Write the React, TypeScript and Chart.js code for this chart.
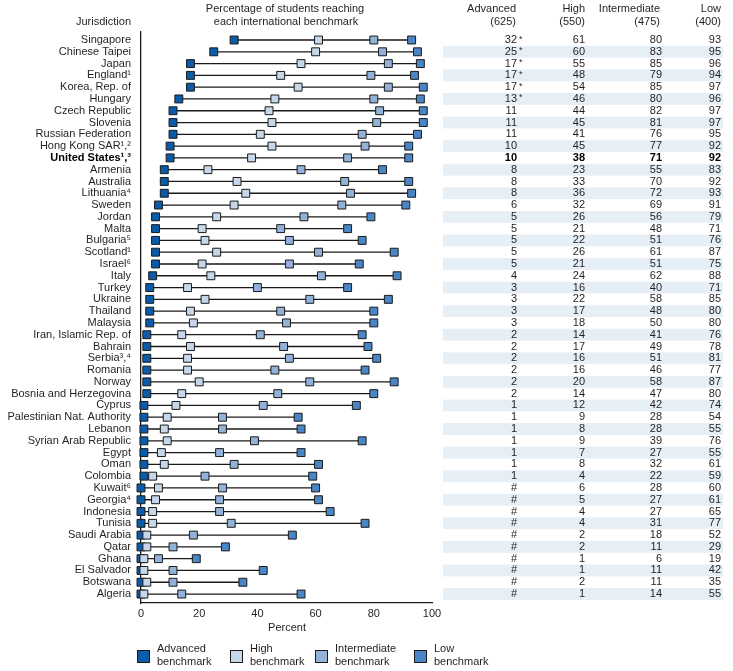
import React, { useEffect, useRef } from 'react';
import { Chart, registerables } from 'chart.js';

Chart.register(...registerables);

const jurisdictions = [
  'Singapore', 'Chinese Taipei', 'Japan', 'England¹', 'Korea, Rep. of', 'Hungary',
  'Czech Republic', 'Slovenia', 'Russian Federation', 'Hong Kong SAR¹,²', 'United States¹,³',
  'Armenia', 'Australia', 'Lithuania⁴', 'Sweden', 'Jordan', 'Malta', 'Bulgaria⁵', 'Scotland¹',
  'Israel⁶', 'Italy', 'Turkey', 'Ukraine', 'Thailand', 'Malaysia', 'Iran, Islamic Rep. of',
  'Bahrain', 'Serbia³,⁴', 'Romania', 'Norway', 'Bosnia and Herzegovina', 'Cyprus',
  'Palestinian Nat. Authority', 'Lebanon', 'Syrian Arab Republic', 'Egypt', 'Oman', 'Colombia',
  'Kuwait⁶', 'Georgia⁴', 'Indonesia', 'Tunisia', 'Saudi Arabia', 'Qatar', 'Ghana',
  'El Salvador', 'Botswana', 'Algeria',
];

// 0 in advanced = "#" (rounds to zero)
const advanced = [32, 25, 17, 17, 17, 13, 11, 11, 11, 10, 10, 8, 8, 8, 6, 5, 5, 5, 5, 5, 4, 3, 3, 3, 3, 2, 2, 2, 2, 2, 2, 1, 1, 1, 1, 1, 1, 1, 0, 0, 0, 0, 0, 0, 0, 0, 0, 0];
const high = [61, 60, 55, 48, 54, 46, 44, 45, 41, 45, 38, 23, 33, 36, 32, 26, 21, 22, 26, 21, 24, 16, 22, 17, 18, 14, 17, 16, 16, 20, 14, 12, 9, 8, 9, 7, 8, 4, 6, 5, 4, 4, 2, 2, 1, 1, 2, 1];
const intermediate = [80, 83, 85, 79, 85, 80, 82, 81, 76, 77, 71, 55, 70, 72, 69, 56, 48, 51, 61, 51, 62, 40, 58, 48, 50, 41, 49, 51, 46, 58, 47, 42, 28, 28, 39, 27, 32, 22, 28, 27, 27, 31, 18, 11, 6, 11, 11, 14];
const low = [93, 95, 96, 94, 97, 96, 97, 97, 95, 92, 92, 83, 92, 93, 91, 79, 71, 76, 87, 75, 88, 71, 85, 80, 80, 76, 78, 81, 77, 87, 80, 74, 54, 55, 76, 55, 61, 59, 60, 61, 65, 77, 52, 29, 19, 42, 35, 55];
const significantRows = [0, 1, 2, 3, 4, 5];
const boldRow = 10;
const xTickValues = [0, 20, 40, 60, 80, 100];

const FONT = '"Liberation Sans", Arial, sans-serif';
const TEXT = '#231f20';
const STRIPE = '#e6eef6';
const C_ADV = '#0b5ca8';
const C_HIGH = '#c6d7ea';
const C_INT = '#92b2d8';
const C_LOW = '#4a86c5';
const EDGE = '#1a1a1a';

const tablePlugin = {
  id: 'tablePlugin',
  afterDraw(chart: any) {
    const ctx = chart.ctx as CanvasRenderingContext2D;
    const ys = chart.scales.y;
    const step = Math.abs(ys.getPixelForValue(1) - ys.getPixelForValue(0));
    ctx.save();
    ctx.textBaseline = 'middle';
    ctx.font = `11px ${FONT}`;
    ctx.fillStyle = TEXT;
    ctx.textAlign = 'right';
    ctx.fillText('Jurisdiction', 131, 22);
    ctx.textAlign = 'center';
    ctx.fillText('Percentage of students reaching', 285, 9);
    ctx.fillText('each international benchmark', 286, 22);
    ctx.textAlign = 'right';
    const heads: [string, string, number][] = [
      ['Advanced', '(625)', 516],
      ['High', '(550)', 585],
      ['Intermediate', '(475)', 660],
      ['Low', '(400)', 721],
    ];
    heads.forEach(([a, b, x]) => {
      ctx.fillText(a, x, 9);
      ctx.fillText(b, x, 22);
    });

    jurisdictions.forEach((_, i) => {
      if (i % 2 === 1) {
        const py = ys.getPixelForValue(i);
        ctx.fillStyle = STRIPE;
        ctx.fillRect(443, py - step / 2, 280, step);
      }
    });
    jurisdictions.forEach((_, i) => {
      const py = ys.getPixelForValue(i);
      const bold = i === boldRow;
      ctx.font = `${bold ? 'bold ' : ''}11px ${FONT}`;
      ctx.fillStyle = bold ? '#000' : TEXT;
      ctx.textAlign = 'right';
      const adv = advanced[i] === 0 ? '#' : String(advanced[i]);
      ctx.fillText(adv, 517, py);
      ctx.fillText(String(high[i]), 585, py);
      ctx.fillText(String(intermediate[i]), 662, py);
      ctx.fillText(String(low[i]), 721, py);
      if (significantRows.includes(i)) {
        ctx.textAlign = 'left';
        ctx.font = `9px ${FONT}`;
        ctx.fillText('*', 519, py - 1);
      }
    });

    ctx.font = `11px ${FONT}`;
    ctx.fillStyle = TEXT;
    ctx.textAlign = 'center';
    ctx.fillText('Percent', 287, 628);

    const legend: [string, string, number][] = [
      ['Advanced', C_ADV, 137],
      ['High', C_HIGH, 230],
      ['Intermediate', C_INT, 315],
      ['Low', C_LOW, 414],
    ];
    legend.forEach(([name, color, x]) => {
      ctx.fillStyle = color;
      ctx.fillRect(x, 650, 12, 12);
      ctx.strokeStyle = EDGE;
      ctx.lineWidth = 1;
      ctx.strokeRect(x + 0.5, 650.5, 12, 12);
      ctx.fillStyle = TEXT;
      ctx.textAlign = 'left';
      ctx.fillText(name, x + 20, 649);
      ctx.fillText('benchmark', x + 20, 662);
    });
    ctx.restore();
  },
};

export default function App() {
  const ref = useRef<HTMLCanvasElement>(null);
  useEffect(() => {
    const lineData: { x: number; y: number }[] = [];
    jurisdictions.forEach((_, i) => {
      lineData.push({ x: advanced[i], y: i });
      lineData.push({ x: low[i], y: i });
      lineData.push({ x: NaN, y: NaN });
    });
    const pts = (arr: number[]) => arr.map((v, i) => ({ x: v, y: i }));
    const markerDs = (label: string, arr: number[], color: string, order: number) => ({
      label,
      data: pts(arr),
      pointStyle: 'rect',
      pointRadius: 5.6,
      pointBorderWidth: 1,
      pointBackgroundColor: color,
      pointBorderColor: EDGE,
      backgroundColor: color,
      borderColor: EDGE,
      showLine: false,
      clip: false,
      order,
    });
    const chart = new Chart(ref.current as HTMLCanvasElement, {
      type: 'scatter',
      data: {
        datasets: [
          {
            label: 'range',
            data: lineData,
            showLine: true,
            spanGaps: false,
            borderColor: EDGE,
            borderWidth: 1.3,
            pointRadius: 0,
            order: 10,
            clip: false,
          } as any,
          markerDs('Advanced benchmark', advanced, C_ADV, 4),
          markerDs('High benchmark', high, C_HIGH, 3),
          markerDs('Intermediate benchmark', intermediate, C_INT, 2),
          markerDs('Low benchmark', low, C_LOW, 1),
        ],
      },
      options: {
        animation: false,
        responsive: false,
        layout: { padding: { left: 0, top: 32, right: 301, bottom: 0 } },
        plugins: { legend: { display: false }, tooltip: { enabled: false } },
        scales: {
          x: {
            type: 'linear',
            min: 0,
            max: 100,
            afterBuildTicks: (s: any) => {
              s.ticks = xTickValues.map((v) => ({ value: v }));
            },
            afterFit: (s: any) => {
              s.height = 68;
            },
            grid: { display: false, drawTicks: false },
            border: { display: true, color: EDGE, width: 1.3 },
            ticks: { font: { family: FONT, size: 11 }, color: TEXT, padding: 4 },
          },
          y: {
            type: 'linear',
            reverse: true,
            min: -0.68,
            max: 47.76,
            afterBuildTicks: (s: any) => {
              s.ticks = jurisdictions.map((_, i) => ({ value: i }));
            },
            afterFit: (s: any) => {
              s.width = 141;
            },
            grid: { display: false, drawTicks: false },
            border: { display: true, color: EDGE, width: 1.3 },
            ticks: {
              autoSkip: false,
              padding: 10,
              callback: (v: any) => jurisdictions[v as number] ?? '',
              font: (c: any) => ({
                family: FONT,
                size: 11,
                weight: c.tick && c.tick.value === boldRow ? 'bold' : 'normal',
              }),
              color: (c: any) => (c.tick && c.tick.value === boldRow ? '#000' : TEXT),
            },
          },
        },
      } as any,
      plugins: [tablePlugin],
    });
    return () => chart.destroy();
  }, []);
  return (
    <div style={{ position: 'absolute', left: 0, top: 0, width: 733, height: 671 }}>
      <canvas ref={ref} width={733} height={671} style={{ display: 'block' }} />
    </div>
  );
}
